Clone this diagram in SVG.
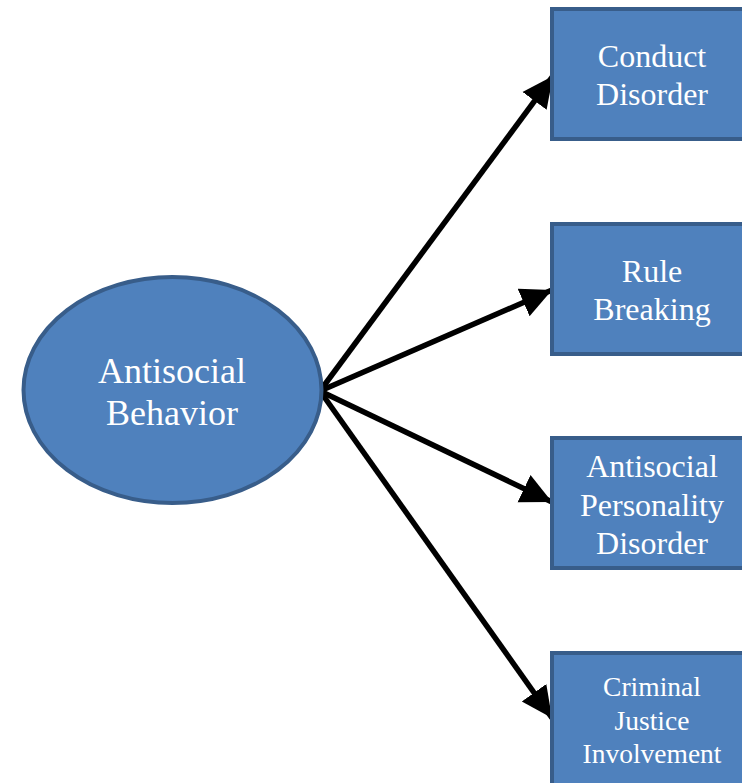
<svg xmlns="http://www.w3.org/2000/svg" width="742" height="783" viewBox="0 0 742 783">
<style>
.box{fill:#4F81BD;stroke:#385D8A;stroke-width:4}
.t{fill:#fff;font-family:"Liberation Serif","Times New Roman",serif;text-anchor:middle}
.c{stroke:#000;stroke-width:5.5;fill:none;marker-end:url(#ah)}
</style>
<defs>
<marker id="ah" markerUnits="userSpaceOnUse" markerWidth="34" markerHeight="32" refX="31" refY="16" orient="auto">
<path d="M0,1 L31,16 L0,31 Z" fill="#000"/>
</marker>
</defs>
<rect width="742" height="783" fill="#fff"/>
<g id="connectors">
<line class="c" x1="320" y1="391" x2="553" y2="76"/>
<line class="c" x1="320" y1="391" x2="552" y2="290"/>
<line class="c" x1="320" y1="391" x2="552" y2="502"/>
<line class="c" x1="320" y1="391" x2="552" y2="718"/>
</g>
<g id="antisocial-behavior">
<ellipse class="box" cx="172.5" cy="390" rx="149" ry="113"/>
<text class="t" font-size="36" x="172" y="383">Antisocial</text>
<text class="t" font-size="36" x="172" y="425">Behavior</text>
</g>
<g id="conduct-disorder">
<rect class="box" x="552" y="9" width="200" height="130"/>
<text class="t" font-size="32" x="652" y="67">Conduct</text>
<text class="t" font-size="32" x="652" y="105">Disorder</text>
</g>
<g id="rule-breaking">
<rect class="box" x="552" y="224" width="200" height="130"/>
<text class="t" font-size="32" x="652" y="282">Rule</text>
<text class="t" font-size="32" x="652" y="320">Breaking</text>
</g>
<g id="antisocial-personality-disorder">
<rect class="box" x="552" y="438" width="200" height="130"/>
<text class="t" font-size="32" x="652" y="477">Antisocial</text>
<text class="t" font-size="32" x="652" y="516">Personality</text>
<text class="t" font-size="32" x="652" y="554">Disorder</text>
</g>
<g id="criminal-justice-involvement">
<rect class="box" x="552" y="653" width="200" height="140"/>
<text class="t" font-size="27.5" x="652" y="696">Criminal</text>
<text class="t" font-size="27.5" x="652" y="730">Justice</text>
<text class="t" font-size="27.5" x="652" y="763">Involvement</text>
</g>
</svg>
